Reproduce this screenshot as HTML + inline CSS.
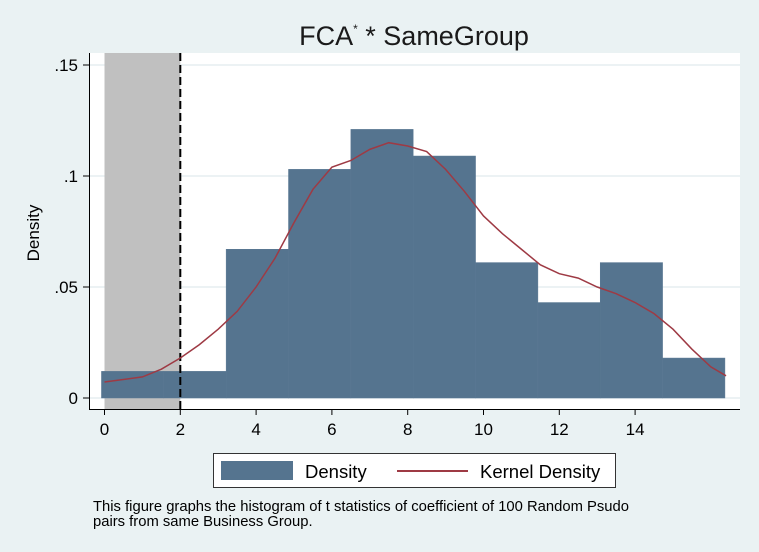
<!DOCTYPE html>
<html><head><meta charset="utf-8"><style>
body{margin:0;background:#eaf2f3;font-family:"Liberation Sans",sans-serif}
svg{display:block}
</style></head><body>
<svg width="759" height="552" id="chart" font-family="Liberation Sans, sans-serif">
<rect width="759" height="552" fill="#eaf2f3"/>
<rect x="89" y="53" width="651" height="356" fill="#fff"/>
<text x="414" y="45" font-size="27" text-anchor="middle" fill="#1a1a1a">FCA<tspan font-size="12" dy="-12">*</tspan><tspan dy="12"> * SameGroup</tspan></text>
<g id="grid"></g><g id="shade"></g><g id="bars"></g><g id="kde"></g><g id="axes"></g>
<text x="39" y="233" font-size="17" text-anchor="middle" transform="rotate(-90 39 233)">Density</text>
<g>
<rect x="213.5" y="453.5" width="402" height="34" fill="#fff" stroke="#333"/>
<rect x="221" y="461" width="72" height="19" fill="#55748f"/>
<text x="305" y="478" font-size="18.5">Density</text>
<line x1="397" y1="471" x2="468" y2="471" stroke="#9e3a44" stroke-width="2"/>
<text x="480" y="478" font-size="18.5">Kernel Density</text>
</g>
<text x="93" y="511" font-size="14.8">This figure graphs the histogram of t statistics of coefficient of 100 Random Psudo</text>
<text x="93" y="526" font-size="14.8">pairs from same Business Group.</text>
</svg>
<script>
const binStart=-0.08, binWidth=1.645;
const densities=[0.012,0.012,0.067,0.103,0.121,0.109,0.061,0.043,0.061,0.018];
const kdeX=[0,1,1.5,2,2.5,3,3.5,4,4.5,5,5.5,6,6.5,7,7.5,8,8.5,9,9.5,10,10.5,11,11.5,12,12.5,13,13.5,14,14.5,15,15.5,16,16.4];
const kdeY=[0.0072,0.0095,0.013,0.018,0.024,0.031,0.039,0.05,0.063,0.079,0.094,0.104,0.107,0.112,0.115,0.1135,0.111,0.103,0.093,0.082,0.074,0.067,0.06,0.056,0.054,0.05,0.047,0.043,0.038,0.031,0.022,0.014,0.010];
const xTicks=[0,2,4,6,8,10,12,14];
const yTicks=[0,0.05,0.1,0.15];
const yTickLabels=["0",".05",".1",".15"];
const shadeRange=[0,2];
const NS="http://www.w3.org/2000/svg";
const X=v=>104.5+v*37.9, Y=v=>398-v*2220;
function mk(tag,attrs,parent){const e=document.createElementNS(NS,tag);for(const k in attrs)e.setAttribute(k,attrs[k]);document.getElementById(parent).appendChild(e);return e;}
yTicks.forEach((t,i)=>{
 const g=mk('line',{x1:89,x2:740,y1:Y(t),y2:Y(t),stroke:'#e6eef1','stroke-width':1.5},'grid');
 
 
 const tk=mk('line',{x1:83,x2:89,y1:Y(t),y2:Y(t),stroke:'#000'},'axes');
 
 
 const tx=mk('text',{x:78,y:Y(t)+6,'font-size':17,'text-anchor':'end'},'axes');tx.textContent=yTickLabels[i];
 
 
});
const sh=mk('rect',{x:X(shadeRange[0]),y:53,width:X(shadeRange[1])-X(shadeRange[0]),height:356,fill:'#c0c0c0'},'shade');


densities.forEach((d,i)=>{
 const x0=X(binStart+i*binWidth),x1=X(binStart+(i+1)*binWidth);
 const r=mk('rect',{x:x0,y:Y(d),width:x1-x0,height:Y(0)-Y(d),fill:'#55748f',stroke:'#5a7893','stroke-width':0.5},'bars');
 
 
});
const dl=mk('line',{x1:X(shadeRange[1]),x2:X(shadeRange[1]),y1:53,y2:409,stroke:'#000','stroke-width':2,'stroke-dasharray':'8,4'},'kde');


const p=mk('polyline',{points:kdeX.map((x,i)=>X(x)+','+Y(kdeY[i])).join(' '),fill:'none',stroke:'#9e3a44','stroke-width':1.5},'kde');


const ya=mk('line',{x1:89.5,x2:89.5,y1:53,y2:409,stroke:'#000'},'axes');


const xa=mk('line',{x1:89,x2:740,y1:409.5,y2:409.5,stroke:'#000'},'axes');


xTicks.forEach(t=>{
 const tk=mk('line',{x1:X(t),x2:X(t),y1:409,y2:415,stroke:'#000'},'axes');
 
 
 const tx=mk('text',{x:X(t),y:435,'font-size':17,'text-anchor':'middle'},'axes');tx.textContent=t;
 
 
});
</script>
</body></html>
